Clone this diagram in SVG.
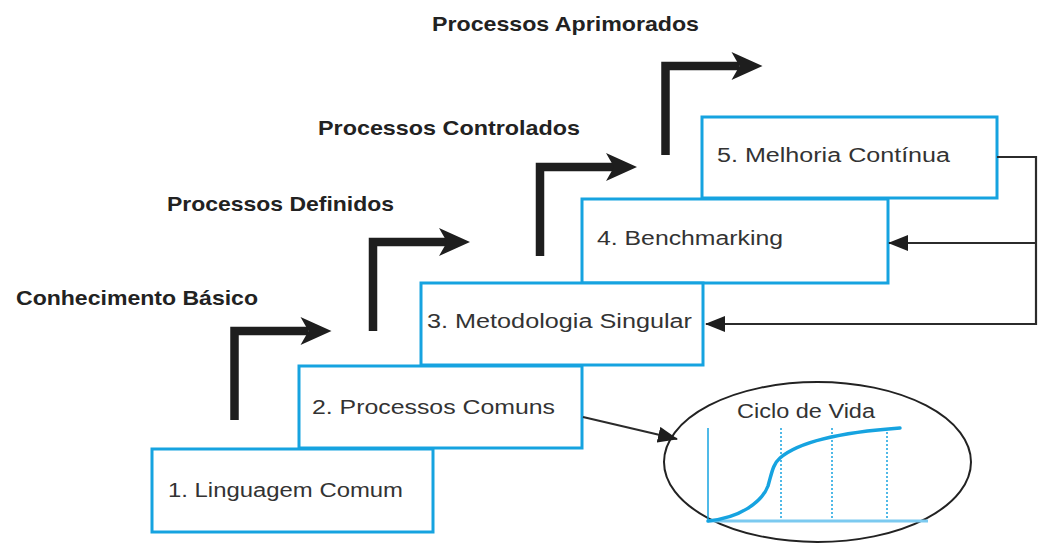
<svg xmlns="http://www.w3.org/2000/svg" xmlns:xlink="http://www.w3.org/1999/xlink" width="1039" height="545" viewBox="0 0 1039 545">
  <style>
    .box { fill: #ffffff; stroke: #16a3e0; stroke-width: 3; }
    .boxText { font-family: "Liberation Sans", Arial, sans-serif; font-size: 20px; fill: #333333; }
    .level { font-family: "Liberation Sans", Arial, sans-serif; font-size: 21px; font-weight: bold; fill: #222222; }
    .feedback { fill: none; stroke: #2b2b2b; stroke-width: 2.2; }
    .chartAxis { stroke: #16a3e0; stroke-width: 1.5; fill: none; }
    .chartGrid { stroke: #16a3e0; stroke-width: 1.5; stroke-dasharray: 2 2; fill: none; }
  </style>
  <defs>
    <!-- thick step arrow: corner of the bend at the origin -->
    <g id="stepArrow">
      <path d="M0,89 V0 H74" fill="none" stroke="#1e1e1e" stroke-width="8.5" stroke-linejoin="miter"/>
      <polygon points="97,0 66,-14 74,0 66,14" fill="#1e1e1e"/>
    </g>
    <marker id="headSolid" viewBox="0 0 20 16" refX="19" refY="8" markerWidth="20" markerHeight="16" markerUnits="userSpaceOnUse" orient="auto">
      <path d="M0,0 L20,8 L0,16 z" fill="#1e1e1e"/>
    </marker>
  </defs>

  <rect width="1039" height="545" fill="#ffffff"/>

  <!-- maturity level labels -->
  <g id="levels">
    <text class="level" x="432" y="31" textLength="267" lengthAdjust="spacingAndGlyphs">Processos Aprimorados</text>
    <text class="level" x="318" y="135" textLength="262" lengthAdjust="spacingAndGlyphs">Processos Controlados</text>
    <text class="level" x="167" y="211" textLength="227" lengthAdjust="spacingAndGlyphs">Processos Definidos</text>
    <text class="level" x="16" y="305" textLength="242" lengthAdjust="spacingAndGlyphs">Conhecimento Básico</text>
  </g>

  <!-- step arrows between levels -->
  <g id="steps">
    <use xlink:href="#stepArrow" href="#stepArrow" transform="translate(234.5,331)"/>
    <use xlink:href="#stepArrow" href="#stepArrow" transform="translate(373,242)"/>
    <use xlink:href="#stepArrow" href="#stepArrow" transform="translate(540,167)"/>
    <use xlink:href="#stepArrow" href="#stepArrow" transform="translate(665.5,66)"/>
  </g>

  <g id="node5">
    <rect class="box" x="702" y="117" width="295" height="81"/>
    <text class="boxText" x="717" y="162" textLength="233" lengthAdjust="spacingAndGlyphs">5. Melhoria Contínua</text>
  </g>
  <g id="node4">
    <rect class="box" x="582" y="199" width="306" height="84"/>
    <text class="boxText" x="597" y="245" textLength="186" lengthAdjust="spacingAndGlyphs">4. Benchmarking</text>
  </g>
  <g id="node3">
    <rect class="box" x="421" y="283" width="282" height="82"/>
    <text class="boxText" x="427" y="328" textLength="265" lengthAdjust="spacingAndGlyphs">3. Metodologia Singular</text>
  </g>
  <g id="node2">
    <rect class="box" x="299" y="366" width="283" height="82"/>
    <text class="boxText" x="312" y="414" textLength="243" lengthAdjust="spacingAndGlyphs">2. Processos Comuns</text>
  </g>
  <g id="node1">
    <rect class="box" x="152" y="449" width="281" height="83"/>
    <text class="boxText" x="168" y="497" textLength="235" lengthAdjust="spacingAndGlyphs">1. Linguagem Comum</text>
  </g>

  <!-- life cycle ellipse with S-curve -->
  <g id="lifecycle">
    <ellipse cx="817.5" cy="462" rx="153.5" ry="80" fill="none" stroke="#222222" stroke-width="2"/>
    <text x="737" y="418" font-family="'Liberation Sans', Arial, sans-serif" font-size="20" fill="#333333" textLength="138" lengthAdjust="spacingAndGlyphs">Ciclo de Vida</text>
    <line class="chartAxis" x1="708" y1="428" x2="708" y2="521"/>
    <line class="chartGrid" x1="781" y1="428" x2="781" y2="521"/>
    <line class="chartGrid" x1="832" y1="428" x2="832" y2="521"/>
    <line class="chartGrid" x1="887" y1="428" x2="887" y2="521"/>
    <line x1="708" y1="521" x2="928" y2="521" stroke="#7ccaf0" stroke-width="3"/>
    <path d="M708,521 C740,518 762,502 768,486 C772,472 773,464 780,458 C795,445 830,433 900,428" fill="none" stroke="#16a3e0" stroke-width="3.5" stroke-linecap="round"/>
  </g>

  <!-- connectors -->
  <g id="connectors">
    <path class="feedback" d="M997,157 H1036 V324 H706" marker-end="url(#headSolid)"/>
    <path class="feedback" d="M1036,243 H889" marker-end="url(#headSolid)"/>
    <path class="feedback" d="M583,417 L677,439" marker-end="url(#headSolid)"/>
  </g>
</svg>
